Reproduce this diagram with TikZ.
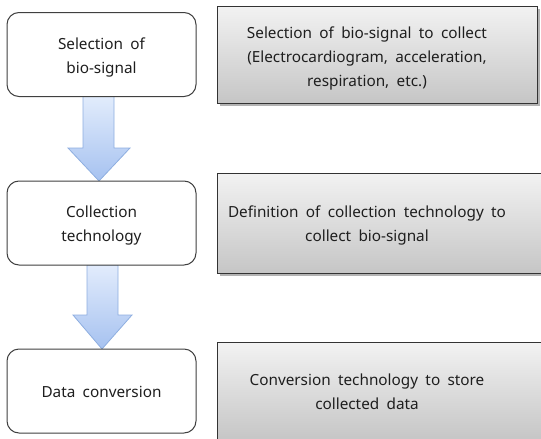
\documentclass[tikz,border=0pt]{standalone}
\usepackage{fontspec}
\setmainfont{Noto Sans}
\usetikzlibrary{shadows,calc}
\newcommand\lblfontsetup{\fontsize{15.3}{24}\selectfont\spaceskip=0.48em plus 0.1em minus 0.05em\relax}
\definecolor{txt}{HTML}{1E1E1E}
\definecolor{arrtop}{HTML}{E2ECFC}
\definecolor{arrbot}{HTML}{A6C2F0}
\definecolor{arredge}{HTML}{8EAEE0}
\tikzset{
  stepbox/.style={draw=black!75, line width=1pt, rounded corners=12pt, fill=white,
    minimum width=189pt, minimum height=84pt, inner sep=0pt},
  descbox/.style={draw=black!80, line width=1pt, top color=gray!10, bottom color=gray!45,
    drop shadow={shadow xshift=2.5pt, shadow yshift=-2.5pt, opacity=0.6},
    minimum width=340pt, inner sep=0pt},
  lbl/.style={align=center, text=txt, font=\lblfontsetup, inner sep=0pt},
  blockarrow/.style={draw=arredge, line width=0.8pt, top color=arrtop, bottom color=arrbot},
}
\begin{document}
\begin{tikzpicture}[x=1pt,y=-1pt]
\useasboundingbox (0,0) rectangle (541,439);
\clip (0,0) rectangle (541,439);
% description boxes
\node[descbox, minimum width=320pt, minimum height=97pt] (d1) at (377,54.5) {};
\node[descbox, minimum height=100pt] (d2) at (387,223) {};
\node[descbox, minimum height=98pt] (d3) at (387,391) {};
\node[lbl] (t1) at (367,58.5) {Selection of bio-signal to collect\\(Electrocardiogram, acceleration,\\respiration, etc.)};
\node[lbl] (t2) at (367,225) {Definition of collection technology to\\collect bio-signal};
\node[lbl] (t3) at (367,392) {Conversion technology to store\\collected data};
% block arrows
\path[blockarrow] (83,96) -- (114,96) -- (114,148) -- (130,148) -- (99,181) -- (68,148) -- (83,148) -- cycle;
\path[blockarrow] (87,265) -- (118,265) -- (118,315) -- (132,315) -- (102,349) -- (73,315) -- (87,315) -- cycle;
% step boxes
\node[stepbox] (b1) at (101.5,54.5) {};
\node[stepbox] (b2) at (101.5,223) {};
\node[stepbox] (b3) at (101.5,391) {};
\node[lbl] (s1) at ($(b1)+(0,3)$) {Selection of\\bio-signal};
\node[lbl] (s2) at ($(b2)+(0,3)$) {Collection\\technology};
\node[lbl] (s3) at ($(b3)+(0,1)$) {Data conversion};
\end{tikzpicture}
\end{document}
